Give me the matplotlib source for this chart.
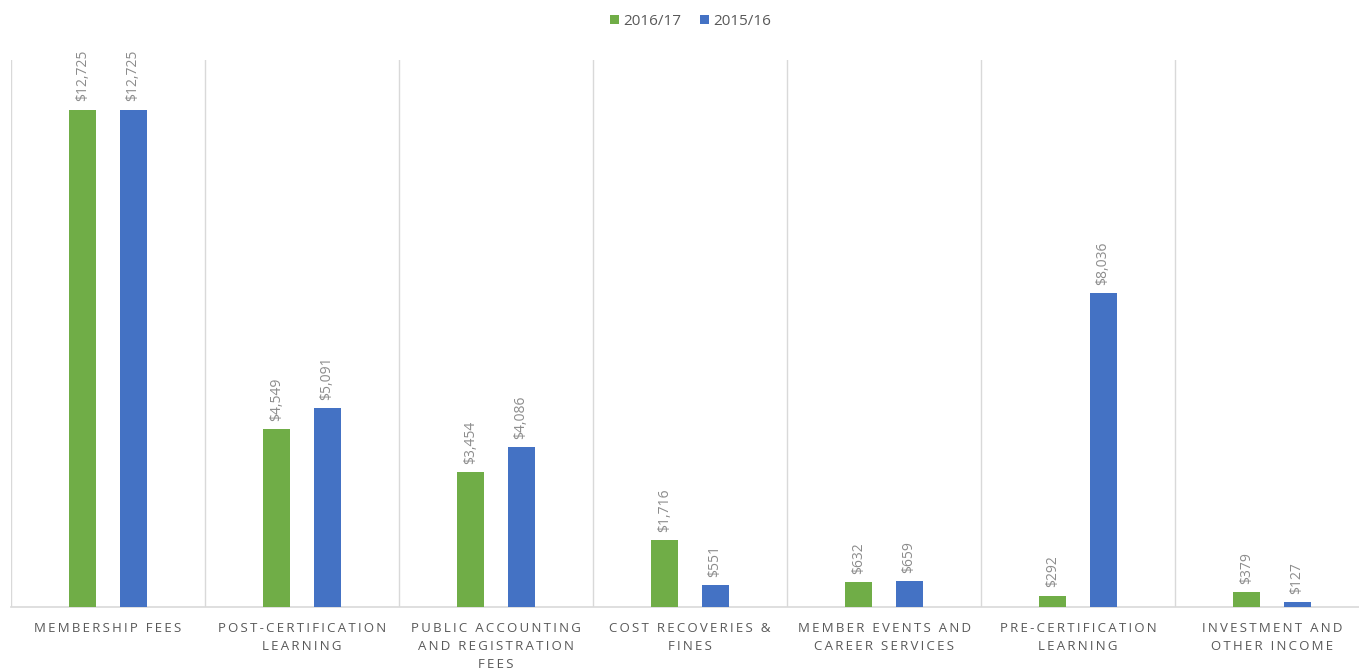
import numpy as np
import matplotlib.pyplot as plt

categories = ["MEMBERSHIP FEES", "POST-CERTIFICATION\nLEARNING",
              "PUBLIC ACCOUNTING\nAND REGISTRATION\nFEES", "COST RECOVERIES &\nFINES",
              "MEMBER EVENTS AND\nCAREER SERVICES", "PRE-CERTIFICATION\nLEARNING",
              "INVESTMENT AND\nOTHER INCOME"]
fy2017 = [12725, 4549, 3454, 1716, 632, 292, 379]
fy2016 = [12725, 5091, 4086, 551, 659, 8036, 127]
series_names = ["2016/17", "2015/16"]

plt.rcParams['font.family'] = ['Open Sans', 'DejaVu Sans']


def spaced(label):
    # fake the letter spacing of the original axis labels with thin spaces
    return "\n".join("\u2009".join(line) for line in label.split("\n"))


fig = plt.figure(figsize=(13.59, 6.70), dpi=100)
ax = fig.add_axes([11 / 1359, 1 - 607 / 670, 1358 / 1359, 547 / 670])

x = np.arange(len(categories))
w = 0.139
off = 0.129
b1 = ax.bar(x - off, fy2017, w, color='#70AD47', label=series_names[0], zorder=3)
b2 = ax.bar(x + off, fy2016, w, color='#4472C4', label=series_names[1], zorder=3)

for bars in (b1, b2):
    for r in bars:
        v = r.get_height()
        ax.annotate(f"${v:,.0f}", (r.get_x() + r.get_width() / 2, v),
                    xytext=(0, 6), textcoords='offset points', rotation=90,
                    ha='center', va='bottom', fontsize=10, color='#8C8C8C')

ax.set_xlim(-0.5, len(categories) - 0.5)
ax.set_ylim(0, 14000)
ax.set_yticks([])
ax.set_xticks(x)
ax.set_xticklabels([spaced(c) for c in categories], fontsize=9.5, color='#595959',
                   linespacing=1.5)
ax.tick_params(axis='x', length=0, pad=11)
ax.set_xticks(np.arange(-0.5, len(categories)), minor=True)
ax.tick_params(axis='x', which='minor', length=0)
ax.grid(True, which='minor', axis='x', color='#D9D9D9', linewidth=1, zorder=0)

for s in ['top', 'right', 'left']:
    ax.spines[s].set_visible(False)
ax.spines['bottom'].set_color('#D9D9D9')
ax.spines['bottom'].set_linewidth(1.2)

fig.legend(loc='upper center', bbox_to_anchor=(0.508, 1.0), ncol=2, frameon=False,
           fontsize=11, handlelength=0.6, handleheight=0.6, handletextpad=0.3,
           columnspacing=1.2, labelcolor='#595959')

fig.savefig('out.png', dpi=100)
